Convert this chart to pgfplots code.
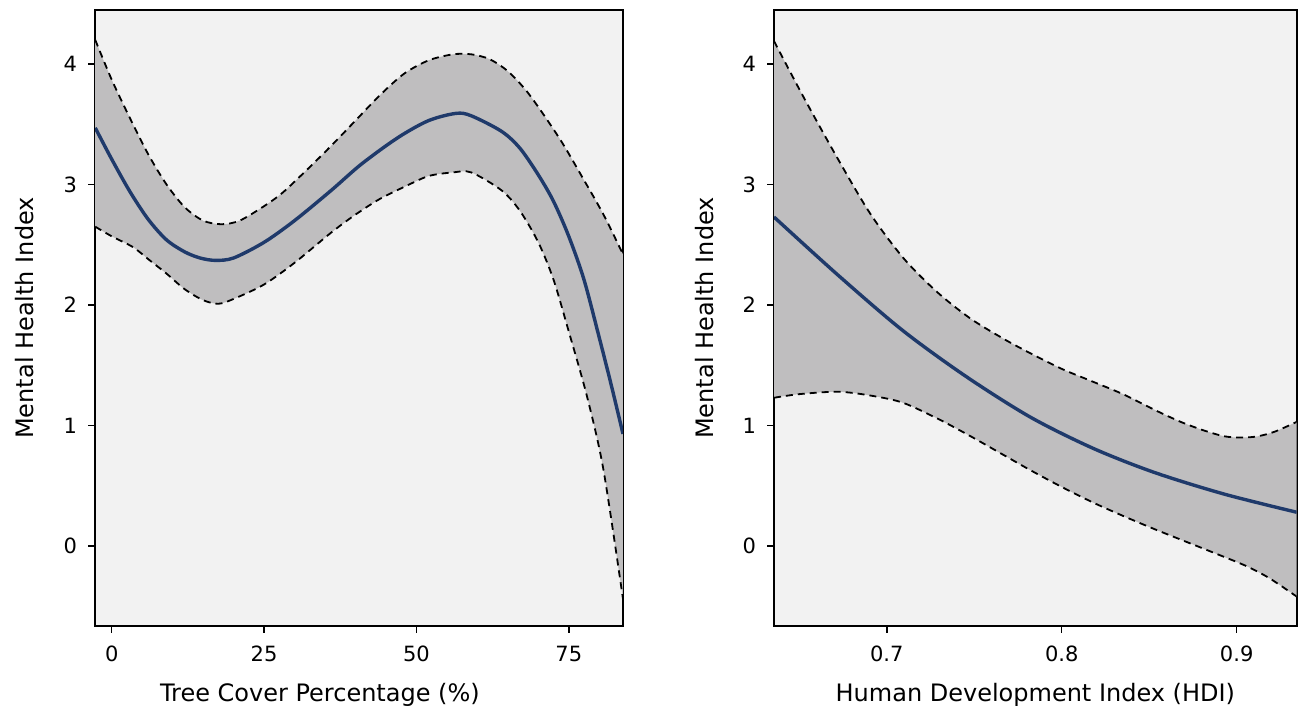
\documentclass[border=0pt]{standalone}
\usepackage{fontspec}
\setmainfont{DejaVu Sans}
\usepackage{pgfplots}
\pgfplotsset{compat=1.18}
\usepgfplotslibrary{fillbetween}
\definecolor{bgc}{HTML}{F2F2F2}
\definecolor{band}{HTML}{BFBEBF}
\definecolor{meanc}{RGB}{31,58,107}
\pgfplotsset{
  panel/.style={
    scale only axis, width=264pt, height=308pt,
    ymin=-0.664, ymax=4.448, ytick={0,1,2,3,4},
    axis background/.style={fill=bgc},
    axis line style={line width=1.2pt},
    tick align=outside, tick pos=left,
    major tick length=3.5pt,
    tick style={black, line width=0.8pt},
    /pgf/number format/assume math mode=true,
    every tick label/.append style={font=\fontsize{10.5}{12}\selectfont},
    yticklabel style={xshift=-2pt},
    xticklabel style={yshift=-3pt},
    label style={font=\fontsize{12}{14}\selectfont},
    ylabel={Mental Health Index},
    ylabel style={at={(axis description cs:-0.133,0.5)}, anchor=center},
    set layers,
  },
  ci/.style={black, line width=0.9pt, dash pattern=on 3.5pt off 2.5pt, smooth},
  mean/.style={meanc, line width=1.7pt, smooth},
}
\begin{document}
\begin{tikzpicture}
\path (-47.5pt,-42pt) rectangle (605.5pt,313pt);
\begin{axis}[panel,
  xmin=-2.74, xmax=83.9, xtick={0,25,50,75},
  xlabel={Tree Cover Percentage (\%)},
  xlabel style={at={(axis description cs:0.426,-0.112)}, anchor=center},
]
\addplot[ci, name path=up1] coordinates {
(-2.7,4.20) (0,3.87) (3,3.55) (6,3.25) (9,3.00) (12,2.81) (15,2.70) (18,2.67)
(21,2.70) (25,2.82) (28,2.93) (32,3.12) (36,3.32) (40,3.53) (44,3.74) (48,3.92)
(52,4.03) (56,4.08) (59,4.08) (62,4.04) (65,3.94) (68,3.78) (71,3.57) (74,3.34)
(77,3.08) (80.7,2.75) (83.9,2.42)};
\addplot[ci, name path=lo1] coordinates {
(-2.7,2.65) (0,2.57) (3.5,2.48) (6,2.38) (9,2.26) (12,2.13) (15,2.04) (17.5,2.01)
(20,2.05) (25,2.17) (30,2.35) (36,2.60) (40,2.75) (44,2.88) (48,2.98) (52,3.07)
(56,3.10) (59,3.10) (64,2.95) (67,2.78) (70,2.52) (72.5,2.21) (75,1.78) (78,1.24)
(80.7,0.63) (83.9,-0.44)};
\addplot[band] fill between[of=up1 and lo1];
\addplot[mean] coordinates {
(-2.7,3.47) (0,3.21) (3,2.94) (6,2.71) (9,2.54) (12,2.44) (14.5,2.39) (17,2.37)
(20,2.39) (25,2.52) (30,2.70) (36,2.95) (41,3.17) (47,3.39) (52,3.53) (56.5,3.59)
(59,3.57) (64,3.44) (67,3.30) (70,3.08) (72.5,2.86) (75,2.57) (77.5,2.21) (80,1.73)
(82,1.33) (83.9,0.93)};
\end{axis}
\begin{axis}[panel, at={(339.5pt,0pt)},
  width=261.35pt,
  xmin=0.6356, xmax=0.9343, xtick={0.7,0.8,0.9},
  xticklabel style={/pgf/number format/.cd, fixed, precision=1},
  xlabel={Human Development Index (HDI)},
  xlabel style={at={(axis description cs:0.5,-0.112)}, anchor=center},
]
\addplot[ci, name path=up2] coordinates {
(0.6356,4.19) (0.6523,3.73) (0.6714,3.23) (0.6905,2.76) (0.7095,2.39) (0.7286,2.11)
(0.7476,1.89) (0.7667,1.72) (0.782,1.60) (0.80,1.47) (0.815,1.38) (0.835,1.26)
(0.853,1.13) (0.868,1.03) (0.881,0.96) (0.893,0.91) (0.903,0.90) (0.912,0.91)
(0.922,0.95) (0.9343,1.03)};
\addplot[ci, name path=lo2] coordinates {
(0.6356,1.23) (0.65,1.26) (0.672,1.28) (0.69,1.25) (0.709,1.19) (0.73,1.05)
(0.748,0.91) (0.765,0.77) (0.782,0.63) (0.80,0.49) (0.818,0.36) (0.835,0.25)
(0.853,0.14) (0.872,0.03) (0.891,-0.08) (0.906,-0.17) (0.919,-0.27) (0.9343,-0.42)};
\addplot[band] fill between[of=up2 and lo2];
\addplot[mean] coordinates {
(0.6356,2.73) (0.672,2.25) (0.709,1.79) (0.745,1.41) (0.782,1.07) (0.818,0.81)
(0.853,0.61) (0.893,0.43) (0.9343,0.28)};
\end{axis}
\end{tikzpicture}
\end{document}
